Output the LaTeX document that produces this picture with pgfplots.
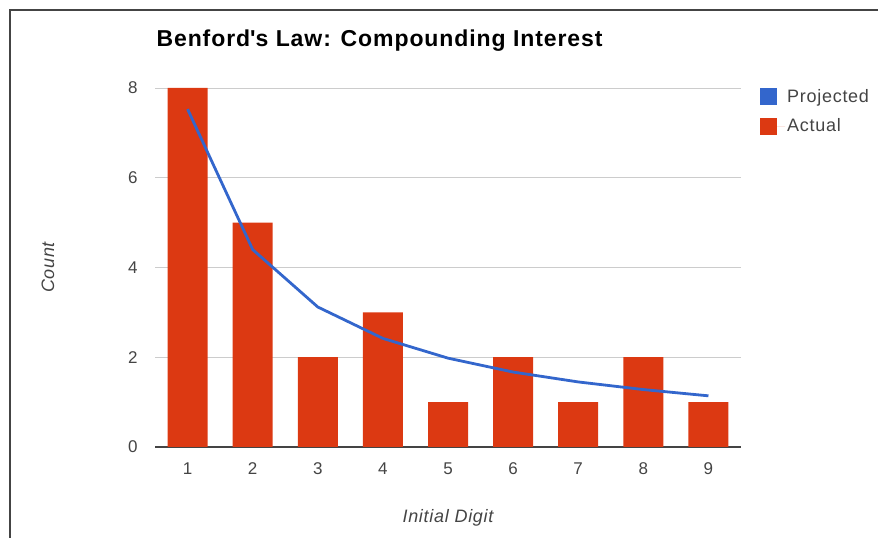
\documentclass[border=0pt]{standalone}
\usepackage{fontspec}
\setmainfont{Liberation Sans}[LetterSpace=4]
\usepackage{pgfplots}
\pgfplotsset{compat=1.18}
\definecolor{gblue}{HTML}{3366CC}
\definecolor{gred}{HTML}{DC3912}
\definecolor{tickgray}{HTML}{444444}
\definecolor{gridgray}{HTML}{CCCCCC}
\begin{document}
\begin{tikzpicture}[x=1pt,y=1pt]
\useasboundingbox (0,0) rectangle (878,538);
\draw[line width=1.5pt, color=tickgray] (10,0) -- (10,528) -- (878,528);
\begin{axis}[
  at={(155pt,91pt)}, anchor=south west,
  width=586pt, height=359pt, scale only axis,
  xmin=0.5, xmax=9.5, ymin=0, ymax=8,
  xtick={1,2,3,4,5,6,7,8,9},
  ytick={0,2,4,6,8},
  ymajorgrids, grid style={gridgray, line width=0.8pt},
  axis line style={draw=none},
  major tick length=0pt,
  tick label style={font=\fontsize{17}{17}\selectfont, color=tickgray},
  /pgf/number format/assume math mode=true,
  yticklabel style={xshift=-14pt},
  xticklabel style={yshift=-12pt},
  extra y ticks={0}, extra y tick labels={},
  extra tick style={grid style={tickgray, line width=1.2pt}},
  title={Benford\textquotesingle s Law: Compounding Interest},
  title style={at={(0,1)}, anchor=base west, xshift=-2pt, yshift=35pt, font=\bfseries\fontsize{23}{23}\selectfont},
  xlabel={Initial Digit},
  ylabel={Count},
  xlabel style={at={(axis description cs:0.5,0)}, anchor=center, yshift=-71pt, font=\itshape\fontsize{18}{18}\selectfont, color=tickgray},
  ylabel style={at={(axis description cs:-0.1826,0.5)}, anchor=center, font=\itshape\fontsize{18}{18}\selectfont, color=tickgray},
  legend style={at={(1,1)}, anchor=north west, xshift=16pt, yshift=3pt, draw=none, fill=none,
    font=\fontsize{18}{18}\selectfont, color=tickgray, row sep=11pt, nodes={inner sep=2pt}},
  legend cell align=left,
  reverse legend,
]
\addplot[ybar, bar width=40pt, fill=gred, draw=none,
  legend image code/.code={\path[draw=none] (0pt,0pt) -- (25pt,0pt); \fill[gred, draw=none] (0pt,-8.5pt) rectangle (17pt,8.5pt);}]
  coordinates {(1,8) (2,5) (3,2) (4,3) (5,1) (6,2) (7,1) (8,2) (9,1)};
\addlegendentry{Actual}
\addplot[gblue, line width=2.8pt, line join=round,
  legend image code/.code={\path[draw=none] (0pt,0pt) -- (25pt,0pt); \fill[gblue, draw=none] (0pt,-8.5pt) rectangle (17pt,8.5pt);}]
  coordinates {(1,7.53) (2,4.40) (3,3.12) (4,2.42) (5,1.98) (6,1.67) (7,1.45) (8,1.28) (9,1.14)};
\addlegendentry{Projected}
\end{axis}
\end{tikzpicture}
\end{document}
